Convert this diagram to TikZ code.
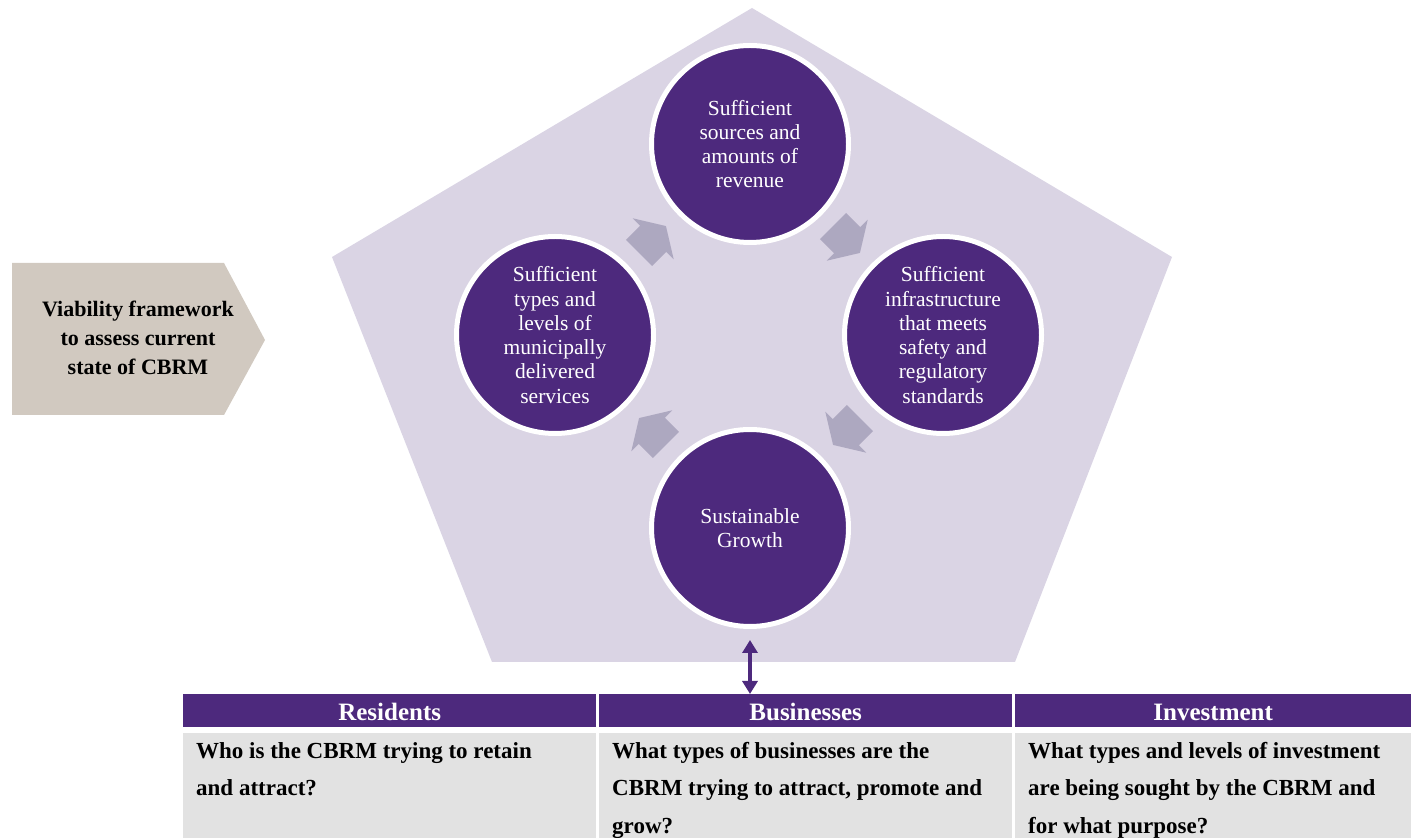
\documentclass[tikz,border=0pt]{standalone}
\usepackage{fontspec}
\setmainfont{Liberation Serif}
\usetikzlibrary{calc,arrows.meta}
\definecolor{cbrmpurple}{RGB}{77,41,125}
\definecolor{pentfill}{RGB}{218,212,228}
\definecolor{cyclegrey}{RGB}{173,168,192}
\definecolor{framebeige}{RGB}{209,201,192}
\definecolor{cellgrey}{RGB}{226,226,226}
\tikzset{
	goal/.style={circle,minimum size=197pt,inner sep=0pt,fill=cbrmpurple,draw=white,line width=5pt,
		text=white,align=center,font=\fontsize{21.5}{24.3}\selectfont},
	colhead/.style={fill=cbrmpurple,text=white,minimum height=33pt,inner sep=0pt,anchor=north west,
		text height=21pt,text depth=1pt,font=\fontsize{25}{28}\selectfont\bfseries},
	colbody/.style={fill=cellgrey,minimum height=105pt,inner sep=0pt,anchor=north west},
	question/.style={anchor=north west,align=left,inner sep=0pt,font=\fontsize{23}{37.5}\selectfont\bfseries},
	cyclearrow/.pic={
		\fill[cyclegrey](-19,-18.5)--(1,-18.5)--(1,-29)--(19,0)--(1,29)--(1,18.5)--(-19,18.5)--cycle;
	}
}
\begin{document}
\begin{tikzpicture}[x=1pt,y=1pt]
		\useasboundingbox(0,0)rectangle(1411,838);
		\fill[pentfill](752,830)--(1172,581)--(1015,176)--(492,176)--(332,581)--cycle;
		\node[goal](rev)at(750,694){Sufficient\\sources and\\amounts of\\revenue};
		\node[goal](infra)at(943,503){Sufficient\\infrastructure\\that meets\\safety and\\regulatory\\standards};
		\node[goal](growth)at(750,310){Sustainable\\Growth};
		\node[goal](serv)at(555,503){Sufficient\\types and\\levels of\\municipally\\delivered\\services};
		\foreach \from/\to/\ang in {serv/rev/45,rev/infra/-45,infra/growth/-135,growth/serv/135}{
			\pic[rotate=\ang]at($(\from)!0.5!(\to)$){cyclearrow};
		}

		\fill[framebeige](12,575)--(224,575)--(265,498)--(224,423)--(12,423)--cycle;
		\node[font=\fontsize{22}{29}\selectfont\bfseries,align=center](viab)at(138,500)
			{Viability framework\\to assess current\\state of CBRM};

		\foreach \name/\x/\w/\title in {res/183/413/Residents,bus/599/413/Businesses,inv/1015/396/Investment}{
			\node[colhead,minimum width=\w pt](\name Head)at(\x,144){\title};
			\node[colbody,minimum width=\w pt](\name Body)at(\x,105){};
		}
		\node[question](resText)at($(resBody.north west)+(13,-9)$)
			{Who is the CBRM trying to retain\\and attract?};
		\node[question](busText)at($(busBody.north west)+(13,-9)$)
			{What types of businesses are the\\CBRM trying to attract, promote and\\grow?};
		\node[question](invText)at($(invBody.north west)+(13,-9)$)
			{What types and levels of investment\\are being sought by the CBRM and\\for what purpose?};

		\draw[cbrmpurple,line width=4pt,{Triangle[width=15pt,length=13pt]}-{Triangle[width=15pt,length=13pt]},
			shorten <=11pt](growth.south)--(growth.south|-busHead.north);
	\end{tikzpicture}
\end{document}
